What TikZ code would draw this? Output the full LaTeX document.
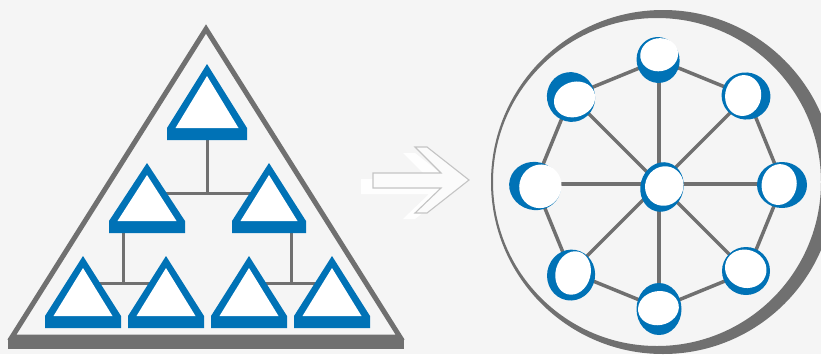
\documentclass[tikz,border=0pt]{standalone}
\usetikzlibrary{calc}
\definecolor{bg}{HTML}{F5F5F5}
\definecolor{gline}{HTML}{707070}
\definecolor{nblue}{RGB}{0,114,182}
\definecolor{arrline}{HTML}{C4C4C4}
% blue triangle: #1 name, #2 cx, #3 top, #4 half width, #5 height
\newcommand{\bluetri}[5]{%
  \coordinate (#1) at (#2,#3);
  \fill[nblue] (#2,#3) -- (#2-#4,#3+#5-12) -- (#2-#4,#3+#5) -- (#2+#4,#3+#5) -- (#2+#4,#3+#5-12) -- cycle;
  \fill[white] (#2,#3+12) -- (#2-#4+8.5,#3+#5-12) -- (#2+#4-8.5,#3+#5-12) -- cycle;
}
% ball: #1 coord name, #2 blue rx, #3 blue ry, #4 blue rot, #5 white dx, #6 white dy, #7 white rx, #8 white ry, #9 white rot
\newcommand{\ball}[9]{%
  \fill[nblue,rotate around={#4:(#1)}] (#1) ellipse [x radius=#2pt, y radius=#3pt];
  \fill[white,rotate around={#9:($(#1)+(#5,#6)$)}] ($(#1)+(#5,#6)$) ellipse [x radius=#7pt, y radius=#8pt];
}
\begin{document}
\begin{tikzpicture}[x=1pt,y=-1pt,
  conn/.style={draw=gline,line width=3pt},
  netconn/.style={draw=gline,line width=3.5pt},
  bigtri/.style={draw=gline,line width=5pt,line join=miter},
  arrowshape/.style={draw=arrline,line width=1.1pt,fill=white!60!bg,line join=miter}]
\useasboundingbox (0,0) rectangle (821,354);
\fill[bg] (0,0) rectangle (821,354);

% ---------- left: hierarchy ----------
\draw[bigtri] (206,29) -- (12,337) -- (400,337) -- cycle;
\fill[gline] (8,338) rectangle (404,349);

\coordinate (j1) at (207,193);
\coordinate (j2) at (123,283);
\coordinate (j3) at (291,283);
\coordinate (t1b) at (207,140);
\coordinate (t2c) at (147,193);
\coordinate (t3c) at (269,193);
\coordinate (t2b) at (123,233);
\coordinate (t3b) at (291,233);
\coordinate (t4c) at (83,283);
\coordinate (t5c) at (166,283);
\coordinate (t6c) at (249,283);
\coordinate (t7c) at (332,283);
\draw[conn] (t1b) -- (j1);
\draw[conn] (t2c) -- (t3c);
\draw[conn] (t2b) -- (j2);
\draw[conn] (t4c) -- (t5c);
\draw[conn] (t3b) -- (j3);
\draw[conn] (t6c) -- (t7c);

\bluetri{t1}{207}{64}{40}{76}
\bluetri{t2}{147}{163}{38}{70}
\bluetri{t3}{269}{163}{37}{70}
\bluetri{t4}{83}{256}{38}{72}
\bluetri{t5}{166}{256}{38}{72}
\bluetri{t6}{249}{256}{38}{72}
\bluetri{t7}{332}{256}{38}{72}

% ---------- middle: arrow ----------
\fill[white,opacity=0.9,xshift=-12pt,yshift=-6pt]
  (373,173) -- (441,173) -- (415,147) -- (427,147) -- (469,180) -- (427,213) -- (415,213) -- (441,188) -- (373,188) -- cycle;
\draw[arrowshape]
  (373,173) -- (441,173) -- (415,147) -- (427,147) -- (469,180) -- (427,213) -- (415,213) -- (441,188) -- (373,188) -- cycle;

% ---------- right: network ----------
\fill[gline,even odd rule] (663,182) circle [radius=172pt] (657,182) circle [radius=164pt];

\coordinate (hub) at (659,184);
\coordinate (nE) at (783,184);
\coordinate (nNE) at (747,96);
\coordinate (nN) at (659,60);
\coordinate (nNW) at (571,96);
\coordinate (nW) at (535,184);
\coordinate (nSW) at (571,272);
\coordinate (nS) at (659,308);
\coordinate (nSE) at (747,272);

\foreach \n in {nE,nNE,nN,nNW,nW,nSW,nS,nSE} \draw[netconn] (hub) -- (\n);
\draw[netconn] (nE) -- (nNE) -- (nN) -- (nNW) -- (nW) -- (nSW) -- (nS) -- (nSE) -- cycle;

\coordinate (bhub) at (662,187);
\coordinate (bN) at (658,60);
\coordinate (bNE) at (746,96);
\coordinate (bE) at (782,185);
\coordinate (bSE) at (746,271);
\coordinate (bS) at (659,309);
\coordinate (bSW) at (571,275);
\coordinate (bW) at (535,186);
\coordinate (bNW) at (571,97);

\ball{bhub}{21.5}{25}{-15}{1.5}{-2}{19}{20}{-30}
\ball{bN}{21.5}{23}{10}{2}{-5}{19}{16.5}{10}
\ball{bNE}{24.5}{23.5}{-15}{-3}{0}{18}{20.5}{-10}
\ball{bE}{25}{23}{0}{-3}{0}{17.5}{20.5}{-10}
\ball{bSE}{24}{24}{0}{-1}{-2}{21}{19}{-20}
\ball{bS}{22.5}{26}{0}{-0.5}{-1}{20.5}{17}{10}
\ball{bSW}{24}{25.5}{-10}{1.5}{-2.5}{17.5}{22}{-15}
\ball{bW}{26}{24}{-15}{5}{-2}{21}{22}{-25}
\ball{bNW}{24}{25}{20}{2.5}{3.5}{21}{17.5}{20}
\end{tikzpicture}
\end{document}
